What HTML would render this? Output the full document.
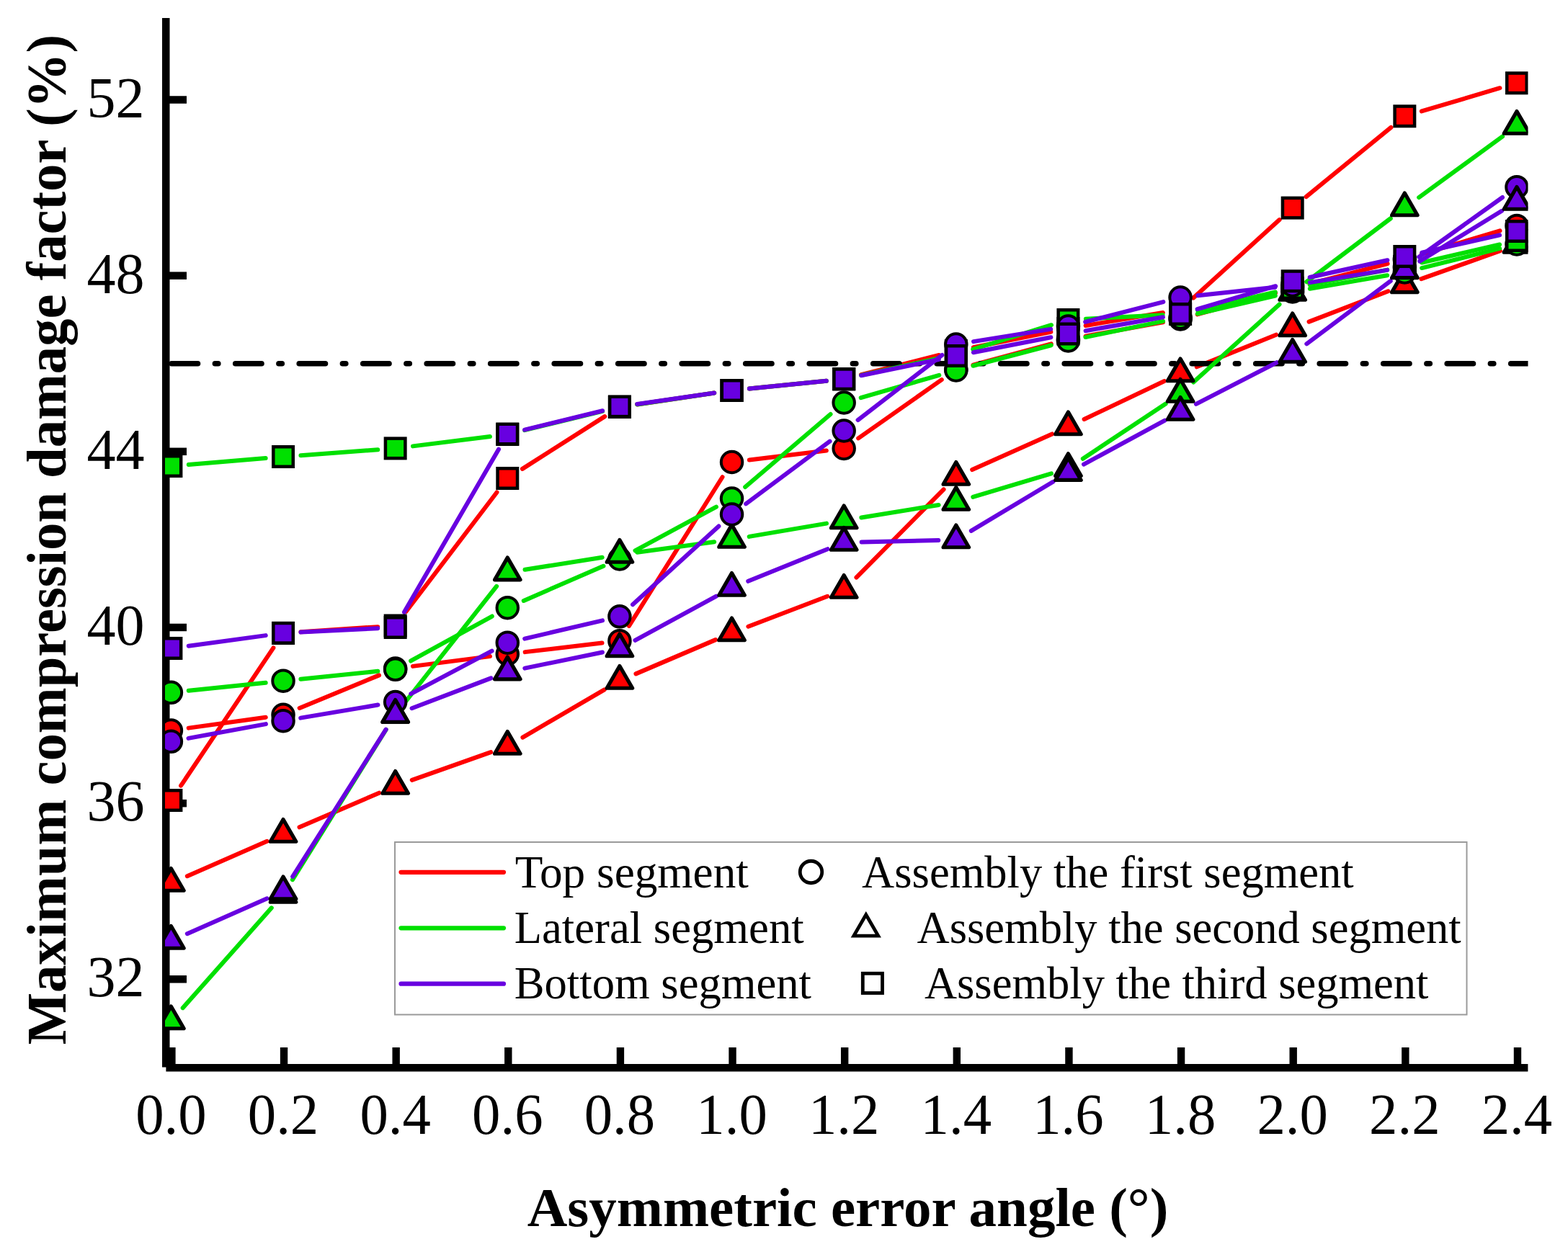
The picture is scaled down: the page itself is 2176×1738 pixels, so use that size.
<!DOCTYPE html><html><head><meta charset="utf-8"><title>Maximum compression damage factor</title>
<style>html,body{margin:0;padding:0;background:#fff;overflow:hidden}svg{display:block}text{font-family:"Liberation Serif","Times New Roman",serif;fill:#000}</style></head><body>
<svg width="2176" height="1738" viewBox="0 0 2176 1738">
<rect width="2176" height="1738" fill="#fff"/>
<defs><clipPath id="pc"><rect x="229" y="0" width="1891.5" height="1480"/></clipPath></defs>
<g fill="#000">
<rect x="225" y="25" width="10.5" height="1456.5"/>
<rect x="230.4" y="1477" width="1890" height="10.5"/>
<rect x="235" y="1354.05" width="24" height="10.5"/>
<rect x="235" y="1109.89" width="24" height="10.5"/>
<rect x="235" y="865.73" width="24" height="10.5"/>
<rect x="235" y="621.57" width="24" height="10.5"/>
<rect x="235" y="377.41" width="24" height="10.5"/>
<rect x="235" y="133.25" width="24" height="10.5"/>
<rect x="233.2" y="1454" width="10.4" height="24"/>
<rect x="388.83" y="1454" width="10.4" height="24"/>
<rect x="544.46" y="1454" width="10.4" height="24"/>
<rect x="700.09" y="1454" width="10.4" height="24"/>
<rect x="855.72" y="1454" width="10.4" height="24"/>
<rect x="1011.35" y="1454" width="10.4" height="24"/>
<rect x="1166.98" y="1454" width="10.4" height="24"/>
<rect x="1322.61" y="1454" width="10.4" height="24"/>
<rect x="1478.24" y="1454" width="10.4" height="24"/>
<rect x="1633.87" y="1454" width="10.4" height="24"/>
<rect x="1789.5" y="1454" width="10.4" height="24"/>
<rect x="1945.13" y="1454" width="10.4" height="24"/>
<rect x="2100.76" y="1454" width="10.4" height="24"/>
</g>
<g font-size="80" text-anchor="middle">
<text transform="translate(237.4 1573.7) scale(0.985 1)">0.0</text>
<text transform="translate(393.03 1573.7) scale(0.985 1)">0.2</text>
<text transform="translate(548.66 1573.7) scale(0.985 1)">0.4</text>
<text transform="translate(704.29 1573.7) scale(0.985 1)">0.6</text>
<text transform="translate(859.92 1573.7) scale(0.985 1)">0.8</text>
<text transform="translate(1015.55 1573.7) scale(0.985 1)">1.0</text>
<text transform="translate(1171.18 1573.7) scale(0.985 1)">1.2</text>
<text transform="translate(1326.81 1573.7) scale(0.985 1)">1.4</text>
<text transform="translate(1482.44 1573.7) scale(0.985 1)">1.6</text>
<text transform="translate(1638.07 1573.7) scale(0.985 1)">1.8</text>
<text transform="translate(1793.7 1573.7) scale(0.985 1)">2.0</text>
<text transform="translate(1949.33 1573.7) scale(0.985 1)">2.2</text>
<text transform="translate(2104.96 1573.7) scale(0.985 1)">2.4</text>
</g>
<g font-size="80" text-anchor="end">
<text x="200.5" y="1383.3">32</text>
<text x="200.5" y="1139.14">36</text>
<text x="200.5" y="894.98">40</text>
<text x="200.5" y="650.82">44</text>
<text x="200.5" y="406.66">48</text>
<text x="200.5" y="162.5">52</text>
</g>
<text x="1176.5" y="1701.5" font-size="77" font-weight="bold" text-anchor="middle">Asymmetric error angle (°)</text>
<text transform="translate(90.6 749.2) rotate(-90) scale(0.9828 1)" font-size="78" font-weight="bold" text-anchor="middle">Maximum compression damage factor (%)</text>
<g clip-path="url(#pc)">
<g fill="none" stroke-width="6" stroke-linecap="round" stroke-linejoin="round">
<path d="M261.67 1010.62L368.76 995.68M415.67 982.94L526.02 937.36M572.96 924.88L679.99 911.12M728.62 905.14L835.59 892.56M872.94 868.94L1002.53 662.26M1039.87 638.53L1146.86 625.47M1191.22 608.4L1306.77 527.1M1350.46 506.62L1458.79 477.38M1506.55 466.66L1613.96 447.34M1661.69 436.48L1770.08 406.52M1817.43 393.9L1925.6 366.1M1972.8 352.97L2081.49 320.43" stroke="#ff0000"/>
<path d="M259.85 1216.19L370.58 1167.81M415.53 1148.31L526.16 1100.69M571.76 1082.84L681.19 1044.16M725.44 1023.63L838.77 957.37M882.45 935.37L993.02 888.13M1038.43 869.75L1148.3 827.75M1188.43 801.6L1309.56 679.4M1349.18 652.01L1460.07 602.49M1504.57 581.98L1615.94 529.02M1660.78 509.31L1770.99 464.69M1816.56 446.67L1926.47 404.23M1972.41 387.18L2081.88 348.22" stroke="#ff0000"/>
<path d="M251.05 1090.65L379.38 899.35M417.47 877.35L524.22 870.15M563.5 849L689.45 683.5M724.96 650.85L839.25 578.15M884.16 561.42L991.31 545.58M1039.92 539.53L1146.81 528.67M1194.94 520.22L1303.05 492.98M1350.84 482.21L1458.41 460.79M1506.61 451.96L1613.9 434.04M1656.2 413.52L1775.57 305.08M1812.66 273.09L1930.37 176.81M1972.83 154.36L2081.46 122.24" stroke="#ff0000"/>
</g>
<path d="M238.2 504.74H2200" stroke="#000" stroke-width="7.6" stroke-linecap="round" fill="none" stroke-dasharray="36.3 23.9 4.4 23.9"/>
<g fill="none" stroke-width="6" stroke-linecap="round" stroke-linejoin="round">
<path d="M261.77 958.78L368.66 947.72M417.4 942.71L524.29 931.79M570.13 917.49L682.82 855.51M726.76 833.93L837.45 785.77M881.48 764.36L993.99 703.64M1034.18 676.08L1152.55 574.92M1194.72 552.19L1303.27 520.81M1350.5 507.76L1458.75 479.24M1506.44 468.07L1614.07 445.93M1661.94 435.48L1769.83 410.52M1817.84 400.81L1925.19 382.19M1973.1 372.04L2081.19 344.96" stroke="#00e000"/>
<path d="M253.66 1399.17L376.77 1260.33M405.98 1221.2L535.71 1012.8M563.83 972.76L689.12 813.84M728.49 790.77L835.72 773.83M884.2 766.72L991.27 752.28M1039.7 744.89L1147.03 726.61M1195.36 718.54L1302.63 700.96M1350.28 689.96L1458.97 657.34M1502.85 636.75L1617.66 560.55M1656.23 530.55L1775.54 422.45M1813.25 391.24L1929.78 303.26M1969.12 274.06L2085.17 189.44" stroke="#00e000"/>
<path d="M261.81 644.96L368.62 636.04M417.46 632.18L524.23 624.22M572.97 619.37L679.98 606.03M728.09 597.19L836.12 570.81M884.16 561.42L991.31 545.58M1039.92 539.53L1146.81 528.67M1195.11 520.94L1302.88 497.26M1350.22 484.78L1459.03 451.22M1506.91 442.74L1613.6 437.26M1661.94 430.48L1769.83 405.52M1817.76 395.36L1925.27 374.64M1973.2 364.48L2081.09 339.52" stroke="#00e000"/>
<path d="M261.5 1024.87L368.93 1005.13M417.19 996.63L524.5 978.57M570.32 963.05L682.63 903.65M728.15 886.62L836.06 861.38M878.03 839.3L997.44 730.5M1035.19 699.36L1151.54 612.64M1190.58 583.04L1307.41 492.96M1351 474.11L1458.25 456.89M1506.17 446.9L1614.34 419.1M1662.43 410.34L1769.34 398.66M1817.89 392.11L1925.14 374.89M1969.26 356.75L2085.03 273.95" stroke="#6800e0"/>
<path d="M259.82 1296.13L370.61 1247.37M406.15 1216.81L535.54 1012.69M571.55 983.26L681.4 941.34M728.28 927.65L835.93 905.45M881.45 888.81L994.02 827.69M1038.26 806.81L1148.47 762.19M1195.67 752.45L1302.32 750.05M1347.82 736.9L1461.43 668.8M1503.99 644.54L1616.52 583.66M1659.86 560.8L1771.91 503.2M1813.31 477.31L1929.72 390.09M1970.22 362.6L2084.07 292.8" stroke="#6800e0"/>
<path d="M261.68 896.69L368.75 882.11M417.5 877.57L524.19 872.23M560.95 849.8L692 623.7M728.09 596.67L836.12 570.23M884.17 560.91L991.3 545.49M1039.92 539.53L1146.81 528.67M1195.17 521.24L1302.82 498.96M1350.85 489.29L1458.4 468.21M1506.57 459.24L1613.94 440.26M1661.58 429.1L1770.19 397.2M1817.63 385.03L1925.4 361.27M1973.23 350.62L2081.06 326.38" stroke="#6800e0"/>
</g>
<g stroke="#000">
<circle cx="237.4" cy="1014" r="14.75" fill="#ff0000" stroke-width="4"/><circle cx="393.03" cy="992.3" r="14.75" fill="#ff0000" stroke-width="4"/><circle cx="548.66" cy="928" r="14.75" fill="#ff0000" stroke-width="4"/><circle cx="704.29" cy="908" r="14.75" fill="#ff0000" stroke-width="4"/><circle cx="859.92" cy="889.7" r="14.75" fill="#ff0000" stroke-width="4"/><circle cx="1015.55" cy="641.5" r="14.75" fill="#ff0000" stroke-width="4"/><circle cx="1171.18" cy="622.5" r="14.75" fill="#ff0000" stroke-width="4"/><circle cx="1326.81" cy="513" r="14.75" fill="#ff0000" stroke-width="4"/><circle cx="1482.44" cy="471" r="14.75" fill="#ff0000" stroke-width="4"/><circle cx="1638.07" cy="443" r="14.75" fill="#ff0000" stroke-width="4"/><circle cx="1793.7" cy="400" r="14.75" fill="#ff0000" stroke-width="4"/><circle cx="1949.33" cy="360" r="14.75" fill="#ff0000" stroke-width="4"/><circle cx="2104.96" cy="313.4" r="14.75" fill="#ff0000" stroke-width="4"/>
<path d="M237.4 1205.5L255.15 1236.25L219.65 1236.25Z" fill="#ff0000" stroke-width="5.2" stroke-linejoin="round"/><path d="M393.03 1137.5L410.78 1168.25L375.28 1168.25Z" fill="#ff0000" stroke-width="5.2" stroke-linejoin="round"/><path d="M548.66 1070.5L566.41 1101.25L530.91 1101.25Z" fill="#ff0000" stroke-width="5.2" stroke-linejoin="round"/><path d="M704.29 1015.5L722.04 1046.25L686.54 1046.25Z" fill="#ff0000" stroke-width="5.2" stroke-linejoin="round"/><path d="M859.92 924.5L877.67 955.25L842.17 955.25Z" fill="#ff0000" stroke-width="5.2" stroke-linejoin="round"/><path d="M1015.55 858L1033.3 888.75L997.8 888.75Z" fill="#ff0000" stroke-width="5.2" stroke-linejoin="round"/><path d="M1171.18 798.5L1188.93 829.25L1153.43 829.25Z" fill="#ff0000" stroke-width="5.2" stroke-linejoin="round"/><path d="M1326.81 641.5L1344.56 672.25L1309.06 672.25Z" fill="#ff0000" stroke-width="5.2" stroke-linejoin="round"/><path d="M1482.44 572L1500.19 602.75L1464.69 602.75Z" fill="#ff0000" stroke-width="5.2" stroke-linejoin="round"/><path d="M1638.07 498L1655.82 528.75L1620.32 528.75Z" fill="#ff0000" stroke-width="5.2" stroke-linejoin="round"/><path d="M1793.7 435L1811.45 465.75L1775.95 465.75Z" fill="#ff0000" stroke-width="5.2" stroke-linejoin="round"/><path d="M1949.33 374.9L1967.08 405.65L1931.58 405.65Z" fill="#ff0000" stroke-width="5.2" stroke-linejoin="round"/><path d="M2104.96 319.5L2122.71 350.25L2087.21 350.25Z" fill="#ff0000" stroke-width="5.2" stroke-linejoin="round"/>
<rect x="223.65" y="1097.25" width="27.5" height="27.5" fill="#ff0000" stroke-width="4.5"/><rect x="379.28" y="865.25" width="27.5" height="27.5" fill="#ff0000" stroke-width="4.5"/><rect x="534.91" y="854.75" width="27.5" height="27.5" fill="#ff0000" stroke-width="4.5"/><rect x="690.54" y="650.25" width="27.5" height="27.5" fill="#ff0000" stroke-width="4.5"/><rect x="846.17" y="551.25" width="27.5" height="27.5" fill="#ff0000" stroke-width="4.5"/><rect x="1001.8" y="528.25" width="27.5" height="27.5" fill="#ff0000" stroke-width="4.5"/><rect x="1157.43" y="512.45" width="27.5" height="27.5" fill="#ff0000" stroke-width="4.5"/><rect x="1313.06" y="473.25" width="27.5" height="27.5" fill="#ff0000" stroke-width="4.5"/><rect x="1468.69" y="442.25" width="27.5" height="27.5" fill="#ff0000" stroke-width="4.5"/><rect x="1624.32" y="416.25" width="27.5" height="27.5" fill="#ff0000" stroke-width="4.5"/><rect x="1779.95" y="274.85" width="27.5" height="27.5" fill="#ff0000" stroke-width="4.5"/><rect x="1935.58" y="147.55" width="27.5" height="27.5" fill="#ff0000" stroke-width="4.5"/><rect x="2091.21" y="101.55" width="27.5" height="27.5" fill="#ff0000" stroke-width="4.5"/>
<circle cx="237.4" cy="961.3" r="14.75" fill="#00e000" stroke-width="4"/><circle cx="393.03" cy="945.2" r="14.75" fill="#00e000" stroke-width="4"/><circle cx="548.66" cy="929.3" r="14.75" fill="#00e000" stroke-width="4"/><circle cx="704.29" cy="843.7" r="14.75" fill="#00e000" stroke-width="4"/><circle cx="859.92" cy="776" r="14.75" fill="#00e000" stroke-width="4"/><circle cx="1015.55" cy="692" r="14.75" fill="#00e000" stroke-width="4"/><circle cx="1171.18" cy="559" r="14.75" fill="#00e000" stroke-width="4"/><circle cx="1326.81" cy="514" r="14.75" fill="#00e000" stroke-width="4"/><circle cx="1482.44" cy="473" r="14.75" fill="#00e000" stroke-width="4"/><circle cx="1638.07" cy="441" r="14.75" fill="#00e000" stroke-width="4"/><circle cx="1793.7" cy="405" r="14.75" fill="#00e000" stroke-width="4"/><circle cx="1949.33" cy="378" r="14.75" fill="#00e000" stroke-width="4"/><circle cx="2104.96" cy="339" r="14.75" fill="#00e000" stroke-width="4"/>
<path d="M237.4 1397L255.15 1427.75L219.65 1427.75Z" fill="#00e000" stroke-width="5.2" stroke-linejoin="round"/><path d="M393.03 1221.5L410.78 1252.25L375.28 1252.25Z" fill="#00e000" stroke-width="5.2" stroke-linejoin="round"/><path d="M548.66 971.5L566.41 1002.25L530.91 1002.25Z" fill="#00e000" stroke-width="5.2" stroke-linejoin="round"/><path d="M704.29 774.1L722.04 804.85L686.54 804.85Z" fill="#00e000" stroke-width="5.2" stroke-linejoin="round"/><path d="M859.92 749.5L877.67 780.25L842.17 780.25Z" fill="#00e000" stroke-width="5.2" stroke-linejoin="round"/><path d="M1015.55 728.5L1033.3 759.25L997.8 759.25Z" fill="#00e000" stroke-width="5.2" stroke-linejoin="round"/><path d="M1171.18 702L1188.93 732.75L1153.43 732.75Z" fill="#00e000" stroke-width="5.2" stroke-linejoin="round"/><path d="M1326.81 676.5L1344.56 707.25L1309.06 707.25Z" fill="#00e000" stroke-width="5.2" stroke-linejoin="round"/><path d="M1482.44 629.8L1500.19 660.55L1464.69 660.55Z" fill="#00e000" stroke-width="5.2" stroke-linejoin="round"/><path d="M1638.07 526.5L1655.82 557.25L1620.32 557.25Z" fill="#00e000" stroke-width="5.2" stroke-linejoin="round"/><path d="M1793.7 385.5L1811.45 416.25L1775.95 416.25Z" fill="#00e000" stroke-width="5.2" stroke-linejoin="round"/><path d="M1949.33 268L1967.08 298.75L1931.58 298.75Z" fill="#00e000" stroke-width="5.2" stroke-linejoin="round"/><path d="M2104.96 154.5L2122.71 185.25L2087.21 185.25Z" fill="#00e000" stroke-width="5.2" stroke-linejoin="round"/>
<rect x="223.65" y="633.25" width="27.5" height="27.5" fill="#00e000" stroke-width="4.5"/><rect x="379.28" y="620.25" width="27.5" height="27.5" fill="#00e000" stroke-width="4.5"/><rect x="534.91" y="608.65" width="27.5" height="27.5" fill="#00e000" stroke-width="4.5"/><rect x="690.54" y="589.25" width="27.5" height="27.5" fill="#00e000" stroke-width="4.5"/><rect x="846.17" y="551.25" width="27.5" height="27.5" fill="#00e000" stroke-width="4.5"/><rect x="1001.8" y="528.25" width="27.5" height="27.5" fill="#00e000" stroke-width="4.5"/><rect x="1157.43" y="512.45" width="27.5" height="27.5" fill="#00e000" stroke-width="4.5"/><rect x="1313.06" y="478.25" width="27.5" height="27.5" fill="#00e000" stroke-width="4.5"/><rect x="1468.69" y="430.25" width="27.5" height="27.5" fill="#00e000" stroke-width="4.5"/><rect x="1624.32" y="422.25" width="27.5" height="27.5" fill="#00e000" stroke-width="4.5"/><rect x="1779.95" y="386.25" width="27.5" height="27.5" fill="#00e000" stroke-width="4.5"/><rect x="1935.58" y="356.25" width="27.5" height="27.5" fill="#00e000" stroke-width="4.5"/><rect x="2091.21" y="320.25" width="27.5" height="27.5" fill="#00e000" stroke-width="4.5"/>
<circle cx="237.4" cy="1029.3" r="14.75" fill="#6800e0" stroke-width="4"/><circle cx="393.03" cy="1000.7" r="14.75" fill="#6800e0" stroke-width="4"/><circle cx="548.66" cy="974.5" r="14.75" fill="#6800e0" stroke-width="4"/><circle cx="704.29" cy="892.2" r="14.75" fill="#6800e0" stroke-width="4"/><circle cx="859.92" cy="855.8" r="14.75" fill="#6800e0" stroke-width="4"/><circle cx="1015.55" cy="714" r="14.75" fill="#6800e0" stroke-width="4"/><circle cx="1171.18" cy="598" r="14.75" fill="#6800e0" stroke-width="4"/><circle cx="1326.81" cy="478" r="14.75" fill="#6800e0" stroke-width="4"/><circle cx="1482.44" cy="453" r="14.75" fill="#6800e0" stroke-width="4"/><circle cx="1638.07" cy="413" r="14.75" fill="#6800e0" stroke-width="4"/><circle cx="1793.7" cy="396" r="14.75" fill="#6800e0" stroke-width="4"/><circle cx="1949.33" cy="371" r="14.75" fill="#6800e0" stroke-width="4"/><circle cx="2104.96" cy="259.7" r="14.75" fill="#6800e0" stroke-width="4"/>
<path d="M237.4 1285.5L255.15 1316.25L219.65 1316.25Z" fill="#6800e0" stroke-width="5.2" stroke-linejoin="round"/><path d="M393.03 1217L410.78 1247.75L375.28 1247.75Z" fill="#6800e0" stroke-width="5.2" stroke-linejoin="round"/><path d="M548.66 971.5L566.41 1002.25L530.91 1002.25Z" fill="#6800e0" stroke-width="5.2" stroke-linejoin="round"/><path d="M704.29 912.1L722.04 942.85L686.54 942.85Z" fill="#6800e0" stroke-width="5.2" stroke-linejoin="round"/><path d="M859.92 880L877.67 910.75L842.17 910.75Z" fill="#6800e0" stroke-width="5.2" stroke-linejoin="round"/><path d="M1015.55 795.5L1033.3 826.25L997.8 826.25Z" fill="#6800e0" stroke-width="5.2" stroke-linejoin="round"/><path d="M1171.18 732.5L1188.93 763.25L1153.43 763.25Z" fill="#6800e0" stroke-width="5.2" stroke-linejoin="round"/><path d="M1326.81 729L1344.56 759.75L1309.06 759.75Z" fill="#6800e0" stroke-width="5.2" stroke-linejoin="round"/><path d="M1482.44 635.7L1500.19 666.45L1464.69 666.45Z" fill="#6800e0" stroke-width="5.2" stroke-linejoin="round"/><path d="M1638.07 551.5L1655.82 582.25L1620.32 582.25Z" fill="#6800e0" stroke-width="5.2" stroke-linejoin="round"/><path d="M1793.7 471.5L1811.45 502.25L1775.95 502.25Z" fill="#6800e0" stroke-width="5.2" stroke-linejoin="round"/><path d="M1949.33 354.9L1967.08 385.65L1931.58 385.65Z" fill="#6800e0" stroke-width="5.2" stroke-linejoin="round"/><path d="M2104.96 259.5L2122.71 290.25L2087.21 290.25Z" fill="#6800e0" stroke-width="5.2" stroke-linejoin="round"/>
<rect x="223.65" y="886.25" width="27.5" height="27.5" fill="#6800e0" stroke-width="4.5"/><rect x="379.28" y="865.05" width="27.5" height="27.5" fill="#6800e0" stroke-width="4.5"/><rect x="534.91" y="857.25" width="27.5" height="27.5" fill="#6800e0" stroke-width="4.5"/><rect x="690.54" y="588.75" width="27.5" height="27.5" fill="#6800e0" stroke-width="4.5"/><rect x="846.17" y="550.65" width="27.5" height="27.5" fill="#6800e0" stroke-width="4.5"/><rect x="1001.8" y="528.25" width="27.5" height="27.5" fill="#6800e0" stroke-width="4.5"/><rect x="1157.43" y="512.45" width="27.5" height="27.5" fill="#6800e0" stroke-width="4.5"/><rect x="1313.06" y="480.25" width="27.5" height="27.5" fill="#6800e0" stroke-width="4.5"/><rect x="1468.69" y="449.75" width="27.5" height="27.5" fill="#6800e0" stroke-width="4.5"/><rect x="1624.32" y="422.25" width="27.5" height="27.5" fill="#6800e0" stroke-width="4.5"/><rect x="1779.95" y="376.55" width="27.5" height="27.5" fill="#6800e0" stroke-width="4.5"/><rect x="1935.58" y="342.25" width="27.5" height="27.5" fill="#6800e0" stroke-width="4.5"/><rect x="2091.21" y="307.25" width="27.5" height="27.5" fill="#6800e0" stroke-width="4.5"/>
</g>
</g>
<rect x="548" y="1169" width="1487.5" height="239.5" fill="none" stroke="#9a9a9a" stroke-width="2"/>
<g stroke-width="6.2" stroke-linecap="round">
<path d="M556.5 1210.8H699" stroke="#ff0000"/>
<path d="M556.5 1288.3H699" stroke="#00e000"/>
<path d="M556.5 1365.7H699" stroke="#6800e0"/>
</g>
<g fill="none" stroke="#000" stroke-width="4.8">
<circle cx="1125.5" cy="1210.5" r="15.25" fill="none"/>
<path d="M1201.8 1269.7L1218.77 1299.1L1184.83 1299.1Z" fill="none"/>
<rect x="1197.3" y="1351.3" width="27.2" height="27.2" fill="none"/>
</g>
<g font-size="64">
<text transform="translate(714.71 1231.8) scale(0.9890 1)">Top segment</text>
<text transform="translate(713.74 1308.9) scale(0.9794 1)">Lateral segment</text>
<text transform="translate(713.74 1385.8) scale(0.9787 1)">Bottom segment</text>
<text transform="translate(1196.12 1231.8) scale(0.9773 1)">Assembly the first segment</text>
<text transform="translate(1272.52 1308.9) scale(0.9768 1)">Assembly the second segment</text>
<text transform="translate(1282.92 1385.8) scale(0.9766 1)">Assembly the third segment</text>
</g>
</svg></body></html>
